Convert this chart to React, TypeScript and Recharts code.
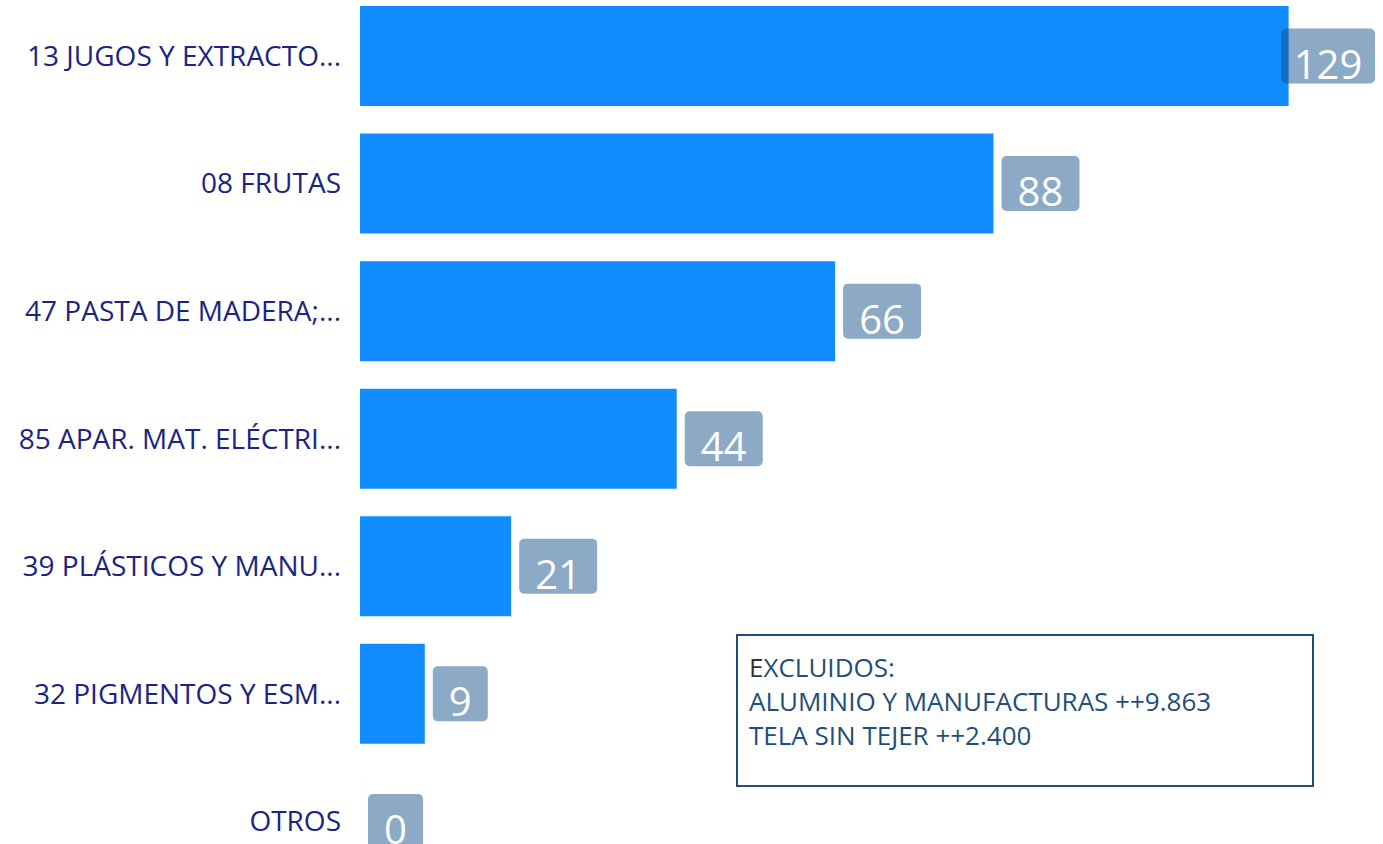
import React from "react";
import { BarChart, Bar, XAxis, YAxis, LabelList } from "recharts";

const categories = [
  "13 JUGOS Y EXTRACTO...",
  "08 FRUTAS",
  "47 PASTA DE MADERA;...",
  "85 APAR. MAT. ELÉCTRI...",
  "39 PLÁSTICOS Y MANU...",
  "32 PIGMENTOS Y ESM...",
  "OTROS",
];
const values = [129, 88, 66, 44, 21, 9, 0];
const noteTitle = "EXCLUIDOS:";
const noteLines = ["ALUMINIO Y MANUFACTURAS ++9.863", "TELA SIN TEJER ++2.400"];

const data = categories.map((c, i) => ({ name: c, value: values[i] }));

const CHART_W = 1375;
const FONT = "'Open Sans', 'Noto Sans', sans-serif";

const YTick = (props: any) => {
  const { x, y, payload } = props;
  return (
    <text
      x={x - 11}
      y={y}
      dy={10}
      textAnchor="end"
      fill="#1B257F"
      fontSize={28}
      fontFamily={FONT}
    >
      {payload.value}
    </text>
  );
};

const ValueLabel = (props: any) => {
  const { x, y, width, height, value } = props;
  const s = String(value);
  const w = s.length === 1 ? 55 : s.length === 2 ? 78 : 94;
  const h = 55;
  let bx = x + Math.max(0, width) + 8;
  if (bx + w > CHART_W) bx = CHART_W - w;
  const cy = y + height / 2;
  const by = cy - h / 2;
  return (
    <g>
      <rect x={bx} y={by} width={w} height={h} rx={5} ry={5} fill="#0E4B85" fillOpacity={0.48} />
      <text
        x={bx + w / 2}
        y={by + 50}
        textAnchor="middle"
        fill="#ffffff"
        fontSize={40}
        fontWeight={400}
        fontFamily={FONT}
      >
        {s}
      </text>
    </g>
  );
};

export default function App() {
  return (
    <div style={{ position: "fixed", left: 0, top: 0, right: 0, bottom: 0, overflow: "hidden", background: "#fff" }}>
      <div style={{ position: "absolute", left: 0, top: -8 }}>
        <BarChart
          width={CHART_W}
          height={893}
          data={data}
          layout="vertical"
          margin={{ top: 0, right: 0, bottom: 0, left: 0 }}
        >
          <XAxis type="number" domain={[0, 141]} hide />
          <YAxis
            type="category"
            dataKey="name"
            width={360}
            axisLine={false}
            tickLine={false}
            tick={<YTick />}
            interval={0}
          />
          <Bar dataKey="value" fill="#118DFF" barSize={100} minPointSize={0.01} isAnimationActive={false}>
            <LabelList dataKey="value" content={<ValueLabel />} />
          </Bar>
        </BarChart>
      </div>
      <div
        style={{
          position: "absolute",
          left: 736,
          top: 634,
          width: 578,
          height: 153,
          border: "2px solid #1F4E79",
          fontFamily: FONT,
          fontSize: 26,
          lineHeight: "34px",
          color: "#1F4E79",
          paddingLeft: 11,
          paddingTop: 14,
          boxSizing: "border-box",
          background: "#fff",
        }}
      >
        <div>
          <span style={{ color: "#333333" }}>{noteTitle.charAt(0)}</span>
          {noteTitle.slice(1)}
        </div>
        {noteLines.map((l, i) => (
          <div key={i}>{l}</div>
        ))}
      </div>
    </div>
  );
}
